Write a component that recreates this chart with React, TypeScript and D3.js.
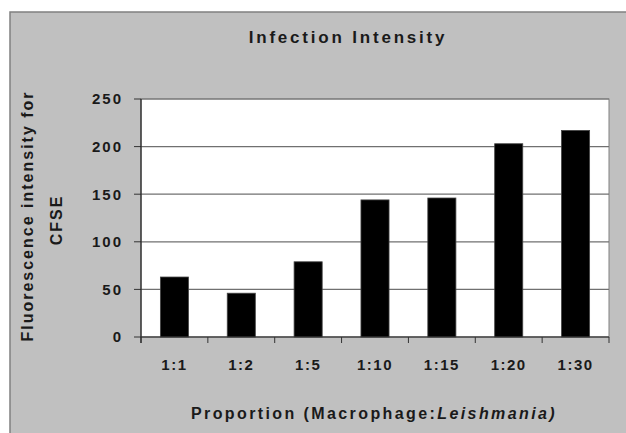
import { scaleBand, scaleLinear } from "d3";

const categories = ["1:1", "1:2", "1:5", "1:10", "1:15", "1:20", "1:30"];
const intensity = [63, 46, 79, 144, 146, 203, 217];
const yTicks = [0, 50, 100, 150, 200, 250];

const W = 626;
const H = 433;
const plot = { left: 141, right: 609, top: 99, bottom: 337 };
const font = "'Liberation Sans', Arial, sans-serif";

export default function App() {
  const x = scaleBand<string>()
    .domain(categories)
    .range([plot.left, plot.right])
    .paddingInner(0.58)
    .paddingOuter(0.29);
  const y = scaleLinear().domain([0, 250]).range([plot.bottom, plot.top]);
  const step = x.step();
  const bounds = categories.map((_, i) => plot.left + i * step).concat(plot.right);

  return (
    <svg
      width={W}
      height={H}
      viewBox={`0 0 ${W} ${H}`}
      style={{ position: "absolute", left: 0, top: 0, display: "block" }}
      fontFamily={font}
    >
      <rect x={0} y={0} width={W} height={H} fill="#ffffff" />
      <rect x={10} y={12} width={W} height={H} fill="#c0c0c0" stroke="#808080" strokeWidth={1.5} />

      <text x={348} y={43} textAnchor="middle" fontSize={17} fontWeight="bold" letterSpacing={2.8} fill="#1a1a1a">
        Infection Intensity
      </text>

      {/* plot area */}
      <rect
        x={plot.left}
        y={plot.top}
        width={plot.right - plot.left}
        height={plot.bottom - plot.top}
        fill="#ffffff"
        stroke="#808080"
        strokeWidth={1}
      />
      {yTicks.map((t) => (
        <g key={t}>
          <line x1={plot.left} x2={plot.right} y1={y(t)} y2={y(t)} stroke="#707070" strokeWidth={1.2} />
          <line x1={plot.left - 7} x2={plot.left} y1={y(t)} y2={y(t)} stroke="#333" strokeWidth={1} />
          <text
            x={123}
            y={y(t)}
            dy="0.36em"
            textAnchor="end"
            fontSize={15}
            fontWeight="bold"
            letterSpacing={2}
            fill="#1a1a1a"
          >
            {t}
          </text>
        </g>
      ))}

      {categories.map((c, i) => (
        <rect
          key={c}
          x={x(c)}
          y={y(intensity[i])}
          width={x.bandwidth()}
          height={plot.bottom - y(intensity[i])}
          fill="#000000"
          stroke="#444"
          strokeWidth={0.8}
        />
      ))}

      {/* axes */}
      <line x1={plot.left} x2={plot.left} y1={plot.top} y2={plot.bottom + 6} stroke="#222" strokeWidth={1.2} />
      <line x1={plot.left} x2={plot.right} y1={plot.bottom} y2={plot.bottom} stroke="#333" strokeWidth={1.2} />
      {bounds.map((bx, i) => (
        <line key={i} x1={bx} x2={bx} y1={plot.bottom} y2={plot.bottom + 6} stroke="#333" strokeWidth={1} />
      ))}
      {categories.map((c) => (
        <text
          key={c}
          x={(x(c) ?? 0) + x.bandwidth() / 2}
          y={370}
          textAnchor="middle"
          fontSize={15}
          fontWeight="bold"
          letterSpacing={1.5}
          fill="#1a1a1a"
        >
          {c}
        </text>
      ))}

      <text x={374} y={419} textAnchor="middle" fontSize={16} fontWeight="bold" letterSpacing={2.4} fill="#1a1a1a">
        Proportion (Macrophage:<tspan fontStyle="italic">Leishmania)</tspan>
      </text>

      <g transform="translate(33,216) rotate(-90)">
        <text x={0} y={0} textAnchor="middle" fontSize={16} fontWeight="bold" letterSpacing={2} fill="#1a1a1a">
          Fluorescence intensity for
        </text>
        <text x={-4} y={29} textAnchor="middle" fontSize={16} fontWeight="bold" letterSpacing={2} fill="#1a1a1a">
          CFSE
        </text>
      </g>
    </svg>
  );
}
